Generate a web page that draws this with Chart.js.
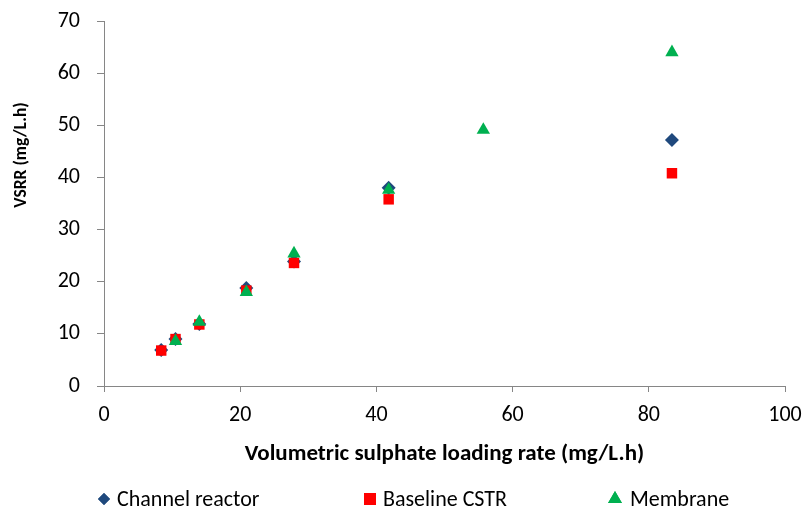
<!DOCTYPE html>
<html><head><meta charset="utf-8">
<script src="https://cdn.jsdelivr.net/npm/chart.js@4.4.1/dist/chart.umd.min.js"></script>
<style>html,body{margin:0;padding:0;background:#fff;}#wrap{width:806px;height:508px;position:relative;}</style>
</head><body><div id="wrap"><canvas id="c" width="806" height="508"></canvas></div>
<script>
// ---- data ----
const seriesNames = ['Channel reactor', 'Baseline CSTR', 'Membrane'];
const channelX  = [8.4, 10.5, 14.0, 20.9, 27.9, 41.8, 83.4];
const channelY  = [6.9, 9.0, 11.9, 18.8, 23.9, 38.0, 47.2];
const baselineX = [8.4, 10.5, 14.0, 20.9, 27.9, 41.8, 83.4];
const baselineY = [6.8, 9.0, 11.8, 18.3, 23.6, 35.8, 40.8];
const membraneX = [10.5, 14.0, 20.9, 27.9, 41.8, 55.7, 83.4];
const membraneY = [8.6, 12.3, 18.0, 25.4, 37.6, 49.1, 64.0];
const xTicks = [0, 20, 40, 60, 80, 100];
const yTicks = [0, 10, 20, 30, 40, 50, 60, 70];
const xTitle = 'Volumetric sulphate loading rate (mg/L.h)';
const yTitle = 'VSRR (mg/L.h)';

const FONT = 'Carlito, Lato, "Open Sans", sans-serif';
const AXIS = '#868686';
const colors = ['#1F497D', '#FF0000', '#00B050'];
const styles = ['rectRot', 'rect', 'triangle'];

const pts = (xs, ys) => xs.map((x, i) => ({x: x, y: ys[i]}));

const yTitlePlugin = {
  id: 'yTitle',
  afterDraw(chart) {
    const ctx = chart.ctx;
    ctx.save();
    ctx.translate(22, 155);
    ctx.rotate(-Math.PI / 2);
    ctx.font = 'bold 17.5px ' + FONT;
    ctx.fillStyle = '#000';
    ctx.textAlign = 'center';
    ctx.textBaseline = 'middle';
    ctx.fillText(yTitle, 0, 0);
    ctx.restore();
  }
};

const legendPlugin = {
  id: 'bottomLegend',
  afterDraw(chart) {
    const ctx = chart.ctx;
    const pos = [{mx: 104, tx: 117, r: 6}, {mx: 370, tx: 383, r: 8.5}, {mx: 615, tx: 630, r: 8}];
    ctx.save();
    ctx.font = '22px ' + FONT;
    ctx.textBaseline = 'middle';
    ctx.textAlign = 'left';
    chart.data.datasets.forEach((ds, i) => {
      const p = pos[i];
      ctx.fillStyle = ds.backgroundColor;
      ctx.beginPath();
      Chart.helpers.drawPoint(ctx, {pointStyle: ds.pointStyle, radius: p.r, borderWidth: 0, rotation: 0}, p.mx, 499);
      ctx.fill();
      ctx.fillStyle = '#000';
      ctx.fillText(ds.label, p.tx, 500);
    });
    ctx.restore();
  }
};

new Chart(document.getElementById('c'), {
  type: 'scatter',
  data: {
    datasets: [
      {label: seriesNames[0], data: pts(channelX, channelY), pointStyle: styles[0], pointRadius: 7, backgroundColor: colors[0], borderColor: colors[0], borderWidth: 0, order: 3},
      {label: seriesNames[1], data: pts(baselineX, baselineY), pointStyle: styles[1], pointRadius: 7.4, backgroundColor: colors[1], borderColor: colors[1], borderWidth: 0, order: 2},
      {label: seriesNames[2], data: pts(membraneX, membraneY), pointStyle: styles[2], pointRadius: 7.7, backgroundColor: colors[2], borderColor: colors[2], borderWidth: 0, order: 1}
    ]
  },
  options: {
    responsive: false,
    animation: false,
    layout: {padding: {top: 21, right: 21, bottom: 40, left: 0}},
    plugins: {legend: {display: false}, tooltip: {enabled: false}},
    scales: {
      x: {
        type: 'linear', min: 0, max: 100,
        afterBuildTicks: s => { s.ticks = xTicks.map(v => ({value: v})); },
        afterFit: s => { s.height = 82; s.paddingLeft = 0; s.paddingRight = 0; },
        ticks: {font: {family: FONT, size: 22}, color: '#000', padding: 10},
        grid: {display: true, drawOnChartArea: false, drawTicks: true, tickLength: 6, color: AXIS},
        border: {display: true, color: AXIS, width: 1},
        title: {display: true, text: xTitle, color: '#000', font: {family: FONT, size: 23, weight: 'bold'}, padding: {top: 0, bottom: 0}}
      },
      y: {
        type: 'linear', min: 0, max: 70,
        afterBuildTicks: s => { s.ticks = yTicks.map(v => ({value: v})); },
        afterFit: s => { s.width = 104; s.paddingTop = 0; s.paddingBottom = 0; },
        ticks: {font: {family: FONT, size: 22}, color: '#000', padding: 17},
        grid: {display: true, drawOnChartArea: false, drawTicks: true, tickLength: 7, color: AXIS},
        border: {display: true, color: AXIS, width: 1},
        title: {display: false}
      }
    }
  },
  plugins: [yTitlePlugin, legendPlugin]
});
</script></body></html>
